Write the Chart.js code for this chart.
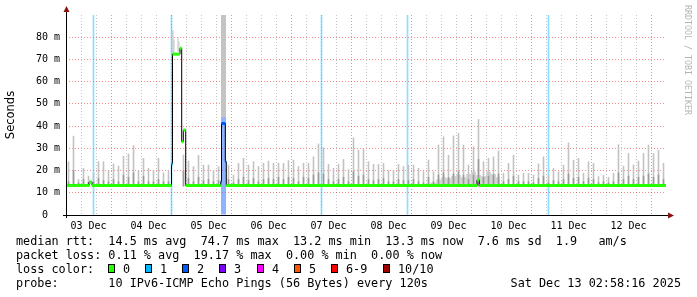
<!DOCTYPE html>
<html>
<head>
<meta charset="utf-8">
<title>smokeping 10 days</title>
<script src="https://cdn.jsdelivr.net/npm/chart.js@4.4.1/dist/chart.umd.min.js"></script>
<style>
  html, body { margin: 0; padding: 0; background: #fff; }
  #wrap { position: relative; width: 697px; height: 297px; overflow: hidden; }
  #graph { position: absolute; left: 0; top: 0; }
  .lg { position: absolute; font-family: 'DejaVu Sans Mono', monospace; font-size: 11.8px; line-height: 14px; color: #000; white-space: pre; }
  .box { position: absolute; width: 5px; height: 7px; border: 1px solid #000; }
</style>
</head>
<body>
<div id="wrap">
  <canvas id="graph" width="697" height="297"></canvas>
  <div id="legend"></div>
</div>
<script>
// x axis = hours counted from 03 Dec 00:00, graph ends Sat Dec 13 02:58:16
var startHour = 2.97;
var endHour = 242.97;

// smoke spikes, one sample every 2 hours from 03 Dec ~04:00 (ms)
var smokeFirstHour = 3.97;
var smokeStepHours = 2;
var smokeTop = [
  24, 35.5, 16, 21, 17.5, 19, 24, 24, 20, 23, 22, 26.5, 27.5, 31.2, 20, 25.5, 21, 20, 25.5, 19,
  20, null, null, 27, 24.3, 21.8, 26.9, 22.5, 22.5, 20, 21.8, null, 22.5, 18, 23.3, 25.5, 22.5, 24, 21.8, 23.3,
  24.3, 23.3, 23.3, 23.3, 24.5, 24.7, 21.8, 23.3, 23.3, 26.2, 32, 30.3, 22.8, 21, 22.8, 25, 20.5, 34.7, 29.2, 29.5,
  24, 22.8, 22.8, 23.3, 20, 20, 22.8, 21.8, 22.5, 22.5, 21, 19.5, 24.7, 19.5, 31.5, 35.2, 26.9, 35.6, 36.7, 31.5,
  22.5, 30.7, 43, 24, 25.5, 26.2, 28.9, 18.8, 23.3, 26.9, 18, 18.8, 18.8, 18, 23, 26.2, 18, 21, 19.5, 22.5,
  32.5, 24.7, 25.5, 18.8, 24, 23.3, 17.3, 17.8, 17, 18.8, 31.7, 22, 27.7, 22.5, 24.3, 27.7, 31.5, 27.7, 29.2, 23.3
];
var smokeDark = [
  15, 20, 14.5, 16, 14.5, 15, 16.5, 15.5, 15, 16, 15, 18, 17, 19, 15, 17.5, 15, 15, 16, 15,
  15, null, null, 20, 16.5, 15, 17, 15.5, 16, 15, 15.5, null, 16, 14.5, 16, 17, 15.5, 16.5, 15, 16,
  16.5, 16, 17, 16, 17, 16.5, 15, 17, 16.5, 18, 19, 18.5, 16, 15, 16, 17, 15, 19.5, 17.5, 18,
  16, 15.5, 16, 16.5, 15, 15, 16, 15.5, 15.5, 16, 15, 14.5, 17, 15, 18, 19, 17, 18.5, 19.5, 18,
  16, 18, 25, 17, 17.5, 18, 18.5, 15, 16, 17.5, 15, 15, 15, 14.5, 16.5, 17.5, 14.5, 15.5, 15, 16,
  18.5, 16.5, 17, 15, 16.5, 16, 14.5, 15, 14.5, 15, 19, 16, 17.5, 16, 17, 17.5, 18.5, 17, 18, 16
];
var smokeFloor = 13.0;

// smoke during the two outages (hours, low ms, high ms)
var eventSmokeHours = [45.37, 45.77, 46.17, 47.77, 48.17, 65.17, 65.57, 65.97, 66.37, 66.77];
var eventSmokeLow   = [72.5, 72.5, 72.5, 73.5, 73.5, 44, 44, 44, 44, 44];
var eventSmokeHigh  = [83, 83, 79, 80, 78, 90, 90, 90, 90, 90];

// wide light smoke around 09 Dec
var bulkHours = [148.6, 151, 153, 155, 157, 159, 161, 163, 165, 167, 169, 171, 173, 175, 176.6];
var bulkMs    = [14.5, 16, 17, 16.5, 17.5, 18, 17, 18.5, 19.5, 18, 17.5, 19.5, 18.5, 17, 13.3];

// median rtt, each value holds until the next hour mark
var medianHours = [2.97, 12.17, 13.37, 45.17, 45.57, 48.57, 49.25, 49.89, 50.85, 64.85, 65.17, 66.69, 67.09, 167.37, 168.29, 242.97];
var medianMs    = [13.3, 14.8, 13.3, 23.0, 72.4, 75.0, 33.0, 38.2, 13.3, 15.0, 41.2, 24.0, 13.3, 15.8, 13.3, 13.3];
var medianLoss  = [0, 0, 0, 1, 0, 0, 0, 0, 0, 2, 2, 2, 0, 0, 0, 0];

// packet loss background marks
var lossHours = [13.97, 45.17, 65.17, 65.57, 65.97, 66.37, 66.77, 105.17, 139.57, 195.97];
var lossCount = [1, 1, 2, 2, 2, 2, 2, 1, 1, 1];

var lossColors = ['#26ff00', '#00b8ff', '#0059ff', '#7e00ff', '#ff00ff', '#ff5500', '#ff0000', '#a00000'];
var lossLabels = ['0', '1', '2', '3', '4', '5', '6-9', '10/10'];

var rttStats  = ['14.5 ms avg', '74.7 ms max', '13.2 ms min', '13.3 ms now', '7.6 ms sd', '1.9'];
var rttUnit   = 'am/s';
var lossStats = ['0.11 % avg', '19.17 % max', '0.00 % min', '0.00 % now'];
var probeText = '10 IPv6-ICMP Echo Pings (56 Bytes) every 120s';
var stampText = 'Sat Dec 13 02:58:16 2025';

var yTicks = [0, 5, 10, 15, 20, 25, 30, 35, 40, 45, 50, 55, 60, 65, 70, 75, 80, 85, 90];
var xTicks = [];
for (var t = 6; t <= 240; t += 6) xTicks.push(t);

function withAlpha(hex, a) {
  var r = parseInt(hex.substr(1, 2), 16), g = parseInt(hex.substr(3, 2), 16), b = parseInt(hex.substr(5, 2), 16);
  return 'rgba(' + r + ',' + g + ',' + b + ',' + a + ')';
}

// build chart points
var smokeLightPts = [], smokeDarkPts = [];
for (var i = 0; i < smokeTop.length; i++) {
  var h = smokeFirstHour + i * smokeStepHours;
  if (smokeTop[i] !== null) smokeLightPts.push({x: h, y: [smokeFloor, smokeTop[i]]});
  if (smokeDark[i] !== null) smokeDarkPts.push({x: h, y: [smokeFloor, smokeDark[i]]});
}
var eventPts = eventSmokeHours.map(function (h, k) { return {x: h, y: [eventSmokeLow[k], eventSmokeHigh[k]]}; });
var bulkPts = bulkHours.map(function (h, k) { return {x: h, y: bulkMs[k]}; });
var medianPts = medianHours.map(function (h, k) { return {x: h, y: medianMs[k]}; });

// single lost pings get a thin mark, the longer outage a solid block
var lossThinPts = [], lossWidePts = [];
lossHours.forEach(function (h, k) {
  var p = {x: h, y: [0, 90], c: withAlpha(lossColors[lossCount[k]], 0.45)};
  if (lossCount[k] === 1) lossThinPts.push(p); else lossWidePts.push(p);
});

// loss coloured band: only the flat parts of the median
var bandPts = [];
for (var j = 0; j < medianHours.length - 1; j++) {
  bandPts.push({x: medianHours[j], y: medianMs[j], loss: medianLoss[j]});
  bandPts.push({x: medianHours[j + 1], y: medianMs[j], loss: medianLoss[j]});
  bandPts.push({x: medianHours[j + 1], y: null, loss: 0});
}

Chart.defaults.font.family = "'DejaVu Sans Mono', monospace";

function tickVal(c) {
  return c && c.tick ? c.tick.value : null;
}

var rrdFrame = {
  id: 'rrdFrame',
  afterDatasetsDraw: function (chart) {
    var c = chart.ctx, a = chart.chartArea;
    c.save();
    c.strokeStyle = '#000';
    c.lineWidth = 1;
    c.beginPath();
    c.moveTo(a.left + 0.5, a.bottom + 3);
    c.lineTo(a.left + 0.5, a.top - 4);
    c.moveTo(a.left - 3, a.bottom + 0.5);
    c.lineTo(a.right + 3, a.bottom + 0.5);
    c.stroke();
    c.fillStyle = '#8b1010';
    c.beginPath();
    c.moveTo(a.left + 0.5, a.top - 9);
    c.lineTo(a.left - 2.5, a.top - 3);
    c.lineTo(a.left + 3.5, a.top - 3);
    c.closePath();
    c.fill();
    c.beginPath();
    c.moveTo(a.right + 8, a.bottom + 0.5);
    c.lineTo(a.right + 2, a.bottom - 2.5);
    c.lineTo(a.right + 2, a.bottom + 3.5);
    c.closePath();
    c.fill();
    // rrdtool signature
    c.translate(687, 5);
    c.rotate(Math.PI / 2);
    c.font = "8.3px 'DejaVu Sans Mono'";
    c.fillStyle = '#b4b4b4';
    c.textBaseline = 'middle';
    c.fillText('RRDTOOL / TOBI OETIKER', 0, 0);
    c.restore();
  }
};

var barBase = { grouped: false, barThickness: 1, borderWidth: 0, inflateAmount: 0 };
var smokeBar = { grouped: false, barThickness: 1, borderWidth: 0, inflateAmount: 0.3 };
function pointColor(list) {
  return function (c) { var p = list[c.dataIndex]; return p ? p.c : 'rgba(0,0,0,0)'; };
}

var ctx = document.getElementById('graph').getContext('2d');
var chart = new Chart(ctx, {
  type: 'bar',
  data: {
    datasets: [
      { type: 'line', data: bandPts, order: 1, borderWidth: 3, borderColor: lossColors[0], pointRadius: 0, spanGaps: false,
        borderCapStyle: 'butt',
        segment: { borderColor: function (s) { var p = bandPts[s.p0DataIndex]; return lossColors[p ? p.loss : 0]; } } },
      { type: 'line', data: medianPts, order: 2, stepped: true, borderWidth: 1, borderColor: '#000', pointRadius: 0 },
      Object.assign({ data: eventPts, order: 6, backgroundColor: '#c4c4c4' }, barBase),
      Object.assign({ data: smokeDarkPts, order: 7, backgroundColor: '#9a9a9a' }, smokeBar),
      Object.assign({ data: smokeLightPts, order: 8, backgroundColor: '#c2c2c2' }, smokeBar),
      { type: 'line', data: bulkPts, order: 9, stepped: true, borderWidth: 0, pointRadius: 0,
        backgroundColor: '#d4d4d4', fill: { value: smokeFloor } },
      Object.assign({ data: lossThinPts, order: 10, backgroundColor: pointColor(lossThinPts) },
        { grouped: false, barThickness: 1, borderWidth: 0, inflateAmount: 0.33 }),
      Object.assign({ data: lossWidePts, order: 11, backgroundColor: pointColor(lossWidePts) }, barBase)
    ]
  },
  options: {
    responsive: false,
    animation: false,
    devicePixelRatio: 1,
    layout: { padding: { left: 0, right: 31, top: 15, bottom: 0 } },
    plugins: { legend: { display: false }, tooltip: { enabled: false } },
    scales: {
      x: {
        type: 'linear', min: startHour, max: endHour, offset: false,
        afterFit: function (s) { s.height = 82; },
        afterBuildTicks: function (s) { s.ticks = xTicks.map(function (v) { return {value: v}; }); },
        grid: {
          drawTicks: false, lineWidth: 1,
          color: function (c) {
            var v = tickVal(c);
            if (v === null) return 'rgba(0,0,0,0)';
            return v % 24 === 0 ? 'rgba(255,0,0,0.45)' : '#c8c8c8';
          }
        },
        border: { display: false, dash: [1, 2] },
        ticks: {
          autoSkip: false, maxRotation: 0, padding: 5, color: '#000', font: { size: 10 },
          callback: function (v) {
            if (v % 24 !== 12) return '';
            var d = 3 + Math.floor(v / 24);
            return (d < 10 ? '0' + d : '' + d) + ' Dec';
          }
        }
      },
      y: {
        min: 0, max: 90,
        afterFit: function (s) { s.width = 66; },
        afterBuildTicks: function (s) { s.ticks = yTicks.map(function (v) { return {value: v}; }); },
        grid: {
          drawTicks: false, lineWidth: 1,
          color: function (c) {
            var v = tickVal(c);
            if (v === null || v === 0 || v === 90) return 'rgba(0,0,0,0)';
            return v % 10 === 0 ? 'rgba(255,0,0,0.45)' : '#c8c8c8';
          }
        },
        border: { display: false, dash: [1, 2] },
        ticks: {
          padding: 6, color: '#000', font: { size: 10 },
          callback: function (v) {
            if (v === 90 || v % 10 !== 0) return '';
            return v === 0 ? '0  ' : v + ' m';
          }
        },
        title: {
          display: true, text: 'Seconds', color: '#000',
          font: { family: "'DejaVu Sans', sans-serif", size: 11.5 },
          padding: { top: 4, bottom: 0 }
        }
      }
    }
  },
  plugins: [rrdFrame]
});

// legend below the graph
var legend = document.getElementById('legend');
function addText(x, top, text, right) {
  var el = document.createElement('div');
  el.className = 'lg';
  el.style.top = top + 'px';
  if (right) el.style.right = x + 'px'; else el.style.left = x + 'px';
  el.textContent = text;
  legend.appendChild(el);
}
var boxX = [108, 145, 182, 219, 257, 294, 331, 383];

addText(16, 234, 'median rtt:  ' + rttStats.join('  ') + '   ' + rttUnit);
addText(16, 248, 'packet loss: ' + lossStats.join('  '));
addText(16, 262, 'loss color:');
lossLabels.forEach(function (s, k) {
  var b = document.createElement('div');
  b.className = 'box';
  b.style.left = boxX[k] + 'px';
  b.style.top = '264px';
  b.style.background = lossColors[k];
  legend.appendChild(b);
  addText(boxX[k] + 15, 262, s);
});
addText(16, 276, 'probe:       ' + probeText);
addText(16, 276, stampText, true);
</script>
</body>
</html>
